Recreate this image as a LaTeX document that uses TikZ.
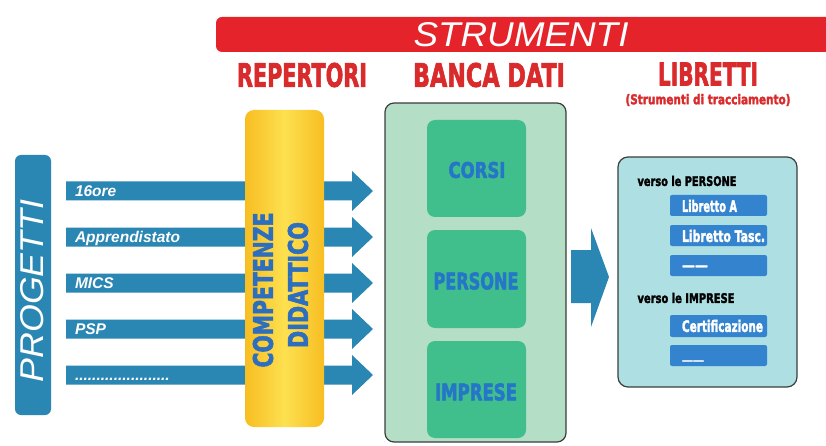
\documentclass[tikz,border=0pt]{standalone}
\usepackage{fontspec}
\usepackage{graphicx}
\setmainfont{Liberation Sans}
\newfontfamily\heavyfont[BoldFeatures={FakeBold=2.5}]{DejaVu Sans}
\definecolor{barblue}{HTML}{2A86B3}
\definecolor{stred}{HTML}{E5232A}
\definecolor{hdred}{HTML}{D92A2C}
\definecolor{yelmid}{HTML}{FDE050}
\definecolor{yeledge}{HTML}{F7BE22}
\definecolor{gout}{HTML}{B4DFC6}
\definecolor{gin}{HTML}{40BE8C}
\definecolor{gtext}{HTML}{2576C8}
\definecolor{lbox}{HTML}{ADDFE3}
\definecolor{btn}{HTML}{3383CF}
\definecolor{cbdark}{HTML}{2D6EBF}
\definecolor{frame}{HTML}{3A3F3C}
\newcommand{\hfit}[3]{\resizebox{#1pt}{#2pt}{\heavyfont\bfseries #3}}
\newcommand{\ifit}[3]{\resizebox{#1pt}{#2pt}{\itshape #3}}
\tikzset{
  txt/.style={inner sep=0pt, outer sep=0pt},
  barlbl/.style={txt, anchor=base west, text=white, font=\fontsize{15.5}{16}\selectfont\bfseries\itshape},
  bararrow/.style={fill=barblue},
  innerbox/.style={fill=gin, rounded corners=8pt},
  button/.style={fill=btn, rounded corners=2pt},
  btnlbl/.style={txt, anchor=west, text=white},
}
\begin{document}
\begin{tikzpicture}[x=1pt,y=-1pt]
\useasboundingbox (0,0) rectangle (826,446);
\fill[white] (0,0) rectangle (826,446);

% red title bar
\fill[stred] (826,17) [rounded corners=6pt] -- (216,17) -- (216,52) [sharp corners] -- (826,52) -- cycle;
\node[txt, text=white] (strum) at (521,35) {\ifit{215}{24}{STRUMENTI}};

% headers
\node[txt, text=hdred] (rep) at (302,75) {\hfit{130}{24}{REPERTORI}};
\node[txt, text=hdred] (banca) at (489,75) {\hfit{152}{24}{BANCA DATI}};
\node[txt, text=hdred] (lib) at (708,74) {\hfit{100}{23}{LIBRETTI}};
\node[txt, text=hdred] (libsub) at (708,100) {\resizebox*{165pt}{12pt}{\heavyfont\bfseries (Strumenti di tracciamento)}};

% PROGETTI
\fill[barblue, rounded corners=6pt] (15,155) rectangle (51,415);
\node[txt, rotate=90, text=white] (prog) at (32,291) {\ifit{183}{23}{PROGETTI}};

% bar arrows
\foreach \y/\lab [count=\i] in {191/16ore, 237/Apprendistato, 283/MICS, 329/PSP, 375/{......................}}{
  \fill[bararrow] (66,\y-9.5) -- (352,\y-9.5) -- (352,\y-20) -- (373,\y) -- (352,\y+20) -- (352,\y+9.5) -- (66,\y+9.5) -- cycle;
  \node[barlbl] (bl\i) at (75,\y+5.5) {\lab};
}

% yellow box
\shade[left color=yeledge, right color=yeledge, middle color=yelmid, rounded corners=9pt] (245,110) rectangle (324,427);
\node[txt, rotate=90, text=cbdark] (comp) at (263,290) {\hfit{155}{20}{COMPETENZE}};
\node[txt, rotate=90, text=cbdark] (did) at (298,285) {\hfit{126}{20}{DIDATTICO}};

% banca dati
\draw[fill=gout, draw=frame, line width=1.2pt, rounded corners=9pt] (385,103) rectangle (566,442);
\fill[innerbox] (427,120) rectangle (526,217);
\fill[innerbox] (427,230) rectangle (526,328);
\fill[innerbox] (427,341) rectangle (526,438);
\node[txt, text=gtext] (corsi) at (477,170) {\hfit{57}{16}{CORSI}};
\node[txt, text=gtext] (pers) at (476,281) {\hfit{85}{17}{PERSONE}};
\node[txt, text=gtext] (impr) at (476,392) {\hfit{82}{17}{IMPRESE}};

% big arrow
\fill[barblue] (571,250) -- (591,250) -- (591,228) -- (609,277) -- (591,327) -- (591,303) -- (571,303) -- cycle;

% libretti box
\draw[fill=lbox, draw=frame, line width=1.2pt, rounded corners=10pt] (618,157) rectangle (797,387);
\node[txt] (vp) at (687,181) {\hfit{99}{10}{verso le PERSONE}};
\fill[button] (670,195) rectangle (767,216);
\fill[button] (670,225) rectangle (767,246);
\fill[button] (670,255) rectangle (767,276);
\node[txt] (vi) at (686,298) {\hfit{97}{10}{verso le IMPRESE}};
\fill[button] (670,315) rectangle (767,337);
\fill[button] (670,345) rectangle (767,366);
\node[btnlbl] (la) at (682,206) {\hfit{55}{12}{Libretto A}};
\node[btnlbl] (lt) at (682,236) {\hfit{83}{12}{Libretto Tasc.}};
\node[btnlbl, anchor=base west] (ld) at (682,270) {\fontsize{13}{13}\selectfont\heavyfont\bfseries ——};
\node[btnlbl] (lc) at (682,326) {\hfit{81}{12}{Certificazione}};
\node[btnlbl, anchor=base west] (le) at (682,364) {\fontsize{11}{11}\selectfont\heavyfont\bfseries ——};
\end{tikzpicture}
\end{document}
